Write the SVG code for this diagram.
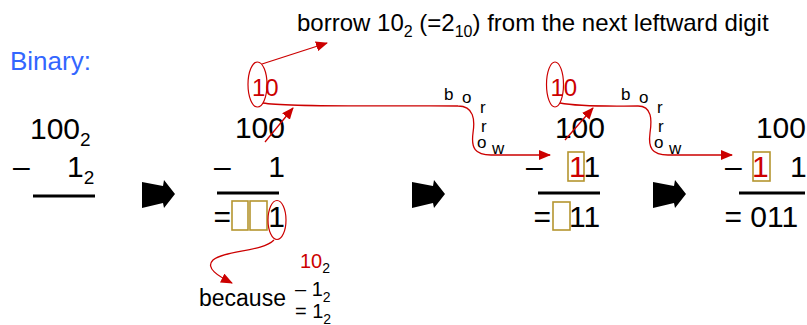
<svg xmlns="http://www.w3.org/2000/svg" width="807" height="325" viewBox="0 0 807 325">
<style>
text{font-family:"Liberation Sans",Arial,sans-serif;fill:#000}
.big{font-size:30px}
.red{fill:#CC0000}
.sub{font-size:19px}
.bl{font-size:17px}
.rl{stroke:#CC0000;stroke-width:1.3;fill:none}
.ell{stroke:#CC0000;stroke-width:1.2;fill:none}
.box{stroke:#B5952F;stroke-width:1.6;fill:none}
.bar{stroke:#000;stroke-width:3}
</style>
<defs>
<marker id="ah" viewBox="0 0 12 10" refX="11" refY="5" markerWidth="12" markerHeight="10" markerUnits="userSpaceOnUse" orient="auto">
<path d="M0,0 L12,5 L0,10 Z" fill="#CC0000"/>
</marker>
<path id="blk" d="M0,2 L21,6 L22,0 L33,14 L22,28 L21,23 L0,28 Z" fill="#000"/>
</defs>

<g id="title">
<text x="10" y="70" style="font-size:26px;fill:#3366FF">Binary:</text>
<text x="297" y="31" style="font-size:24px">borrow 10<tspan dy="6" style="font-size:16px">2</tspan><tspan dy="-6"> (=2</tspan><tspan dy="6" style="font-size:16px">10</tspan><tspan dy="-6">) from the next leftward digit</tspan></text>
</g>

<g id="step1">
<text class="big" x="30" y="139">100<tspan class="sub" dy="7">2</tspan></text>
<text class="big" x="13" y="177">–</text>
<text class="big" x="67" y="177">1<tspan class="sub" dy="7">2</tspan></text>
<line class="bar" x1="33" y1="196" x2="95" y2="196"/>
</g>

<g id="arrows-black">
<use href="#blk" x="142" y="180"/>
<use href="#blk" x="412" y="180"/>
<use href="#blk" x="653" y="180"/>
</g>

<g id="step2">
<text class="red" x="252" y="96" style="font-size:24px">10</text>
<ellipse class="ell" cx="257.5" cy="84.5" rx="9.5" ry="22.5"/>
<text class="big" x="285" y="138" text-anchor="end">100</text>
<text class="big" x="214" y="177">–</text>
<text class="big" x="285" y="177" text-anchor="end">1</text>
<line class="bar" x1="217" y1="193" x2="279" y2="193"/>
<text class="big" x="213.5" y="227">=</text>
<rect class="box" x="232" y="201" width="16" height="29"/>
<rect class="box" x="250" y="201" width="17" height="29"/>
<text class="big" x="285" y="227" text-anchor="end">1</text>
<ellipse class="ell" cx="277" cy="220" rx="9" ry="19.5"/>
</g>

<g id="borrow-label-1">
<text class="bl" x="444" y="100">b</text>
<text class="bl" x="462" y="103">o</text>
<text class="bl" x="480" y="113">r</text>
<text class="bl" x="481" y="132">r</text>
<text class="bl" x="477" y="148">o</text>
<text class="bl" x="492" y="154">w</text>
</g>

<g id="because">
<text x="199" y="306" style="font-size:23px">because</text>
<text x="300" y="268" style="font-size:20px"><tspan class="red">10</tspan><tspan dy="5" style="font-size:14px">2</tspan></text>
<text x="295" y="296" style="font-size:20px">– 1<tspan dy="6" style="font-size:14px">2</tspan></text>
<text x="295" y="318" style="font-size:20px">= 1<tspan dy="6" style="font-size:14px">2</tspan></text>
</g>

<g id="step3">
<text class="red" x="550.4" y="96" style="font-size:24px">10</text>
<ellipse class="ell" cx="555" cy="84.5" rx="8.5" ry="22.5"/>
<text class="big" x="605" y="138" text-anchor="end">100</text>
<text class="big" x="526" y="177">–</text>
<rect class="box" x="568" y="152" width="16" height="29"/>
<text class="big" x="569" y="177"><tspan class="red">1</tspan>1</text>
<line class="bar" x1="538" y1="193" x2="600" y2="193"/>
<text class="big" x="533.5" y="227">=</text>
<rect class="box" x="553" y="202" width="17" height="28"/>
<text class="big" x="569" y="227">11</text>
</g>

<g id="borrow-label-2">
<text class="bl" x="621" y="100">b</text>
<text class="bl" x="639" y="103">o</text>
<text class="bl" x="657" y="113">r</text>
<text class="bl" x="658" y="132">r</text>
<text class="bl" x="654" y="148">o</text>
<text class="bl" x="669" y="154">w</text>
</g>

<g id="step4">
<text class="big" x="806" y="138" text-anchor="end">100</text>
<text class="big" x="725" y="177">–</text>
<rect class="box" x="753" y="152" width="17" height="29"/>
<text class="big red" x="752" y="177">1</text>
<text class="big" x="790" y="177">1</text>
<line class="bar" x1="739" y1="193" x2="805" y2="193"/>
<text class="big" x="724.5" y="227">= 011</text>
</g>

<g id="connectors">
<path class="rl" d="M262,64 L327,43" marker-end="url(#ah)"/>
<path class="rl" d="M263,103 C290,108 420,105 458,106 C474,106 475,120 473,133 C471,148 475,155 491,155 L550,155" marker-end="url(#ah)"/>
<path class="rl" d="M265,142 L293,108" marker-end="url(#ah)"/>
<path class="rl" d="M560,103 C580,107 610,106 638,106 C652,106 652,120 650,133 C648,148 652,155 668,155 L732,155" marker-end="url(#ah)"/>
<path class="rl" d="M565,140 L593,108" marker-end="url(#ah)"/>
<path class="rl" d="M274,240 C262,252 225,250 213,260 C205,268 218,276 232,283" marker-end="url(#ah)"/>
</g>
</svg>
